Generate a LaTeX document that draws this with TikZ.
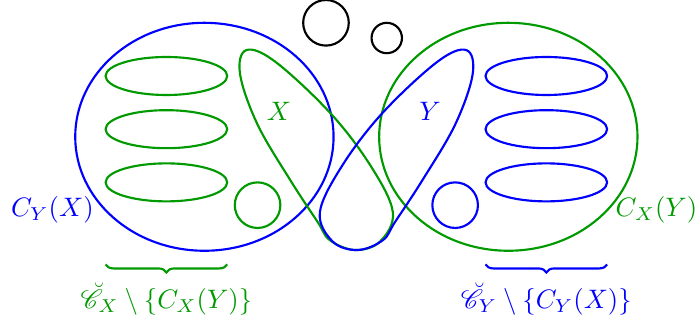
\documentclass[tikz,border=0pt]{standalone}
\usepackage{amsmath,amssymb}
\usepackage{mathrsfs}
\definecolor{cx-green}{rgb}{0,0.6,0}
\definecolor{cy-blue}{rgb}{0,0,1}
\usetikzlibrary{decorations.pathreplacing}
\tikzset{
  xset/.style={draw=cx-green, thick},
  yset/.style={draw=cy-blue, thick},
  xlabel/.style={text=cx-green, inner sep=1pt},
  ylabel/.style={text=cy-blue, inner sep=1pt},
  bracedown/.style={decorate, decoration={brace, mirror, amplitude=3pt}, thick},
}

\begin{document}
\begin{tikzpicture}[
  blob/.style={smooth cycle, tension=0.6}
]
  \useasboundingbox (-2.69,-2.46) rectangle (6.47,1.80);

  % the two big clusters
  \draw[yset] (0,0) ellipse (1.7 and 1.5);
  \draw[xset] (4,0) ellipse (1.7 and 1.5);
  \foreach \y in {0.8,0.1,-0.6} {
    \draw[xset] (-0.5,\y) ellipse (0.8 and 0.25);
    \draw[yset] (4.5,\y) ellipse (0.8 and 0.25);
  }
  \draw[xset] (0.7,-0.9) circle (0.3);
  \draw[yset] (3.3,-0.9) circle (0.3);
  \draw[thick] (1.6,1.5) circle (0.3);
  \draw[thick] (2.4,1.3) circle (0.2);

  % X and Y
  \draw[xset] plot[blob] coordinates {(0.55,1.14) (0.93,0.99) (1.65,0.32)
    (2.18,-0.37) (2.48,-0.99) (2.31,-1.38) (1.98,-1.49) (1.65,-1.36)
    (1.49,-1.12) (1.13,-0.57) (0.70,0.16) (0.47,0.82)};
  \draw[yset, xshift=4cm, xscale=-1] plot[blob] coordinates {(0.55,1.14)
    (0.93,0.99) (1.65,0.32) (2.18,-0.37) (2.48,-0.99) (2.31,-1.38)
    (1.98,-1.49) (1.65,-1.36) (1.49,-1.12) (1.13,-0.57) (0.70,0.16)
    (0.47,0.82)};
  \node[xlabel] (xname) at (0.98,0.33) {$X$};
  \node[ylabel] (yname) at (2.97,0.33) {$Y$};

  \node[ylabel] (cyx) at (-2.0,-0.96) {$C_Y(X)$};
  \node[xlabel] (cxy) at (5.95,-0.96) {$C_X(Y)$};

  % braces
  \coordinate (xb-l) at (-1.3,-1.68);
  \coordinate (xb-r) at (0.3,-1.68);
  \coordinate (yb-l) at (3.7,-1.68);
  \coordinate (yb-r) at (5.3,-1.68);
  \draw[bracedown, cx-green] (xb-l) -- (xb-r);
  \draw[bracedown, cy-blue] (yb-l) -- (yb-r);
  \node[xlabel] (xrest) at (-0.5,-2.14) {$\breve{\mathscr{C}}_X \setminus \{C_X(Y)\}$};
  \node[ylabel] (yrest) at (4.5,-2.14) {$\breve{\mathscr{C}}_Y \setminus \{C_Y(X)\}$};

\end{tikzpicture}
\end{document}
